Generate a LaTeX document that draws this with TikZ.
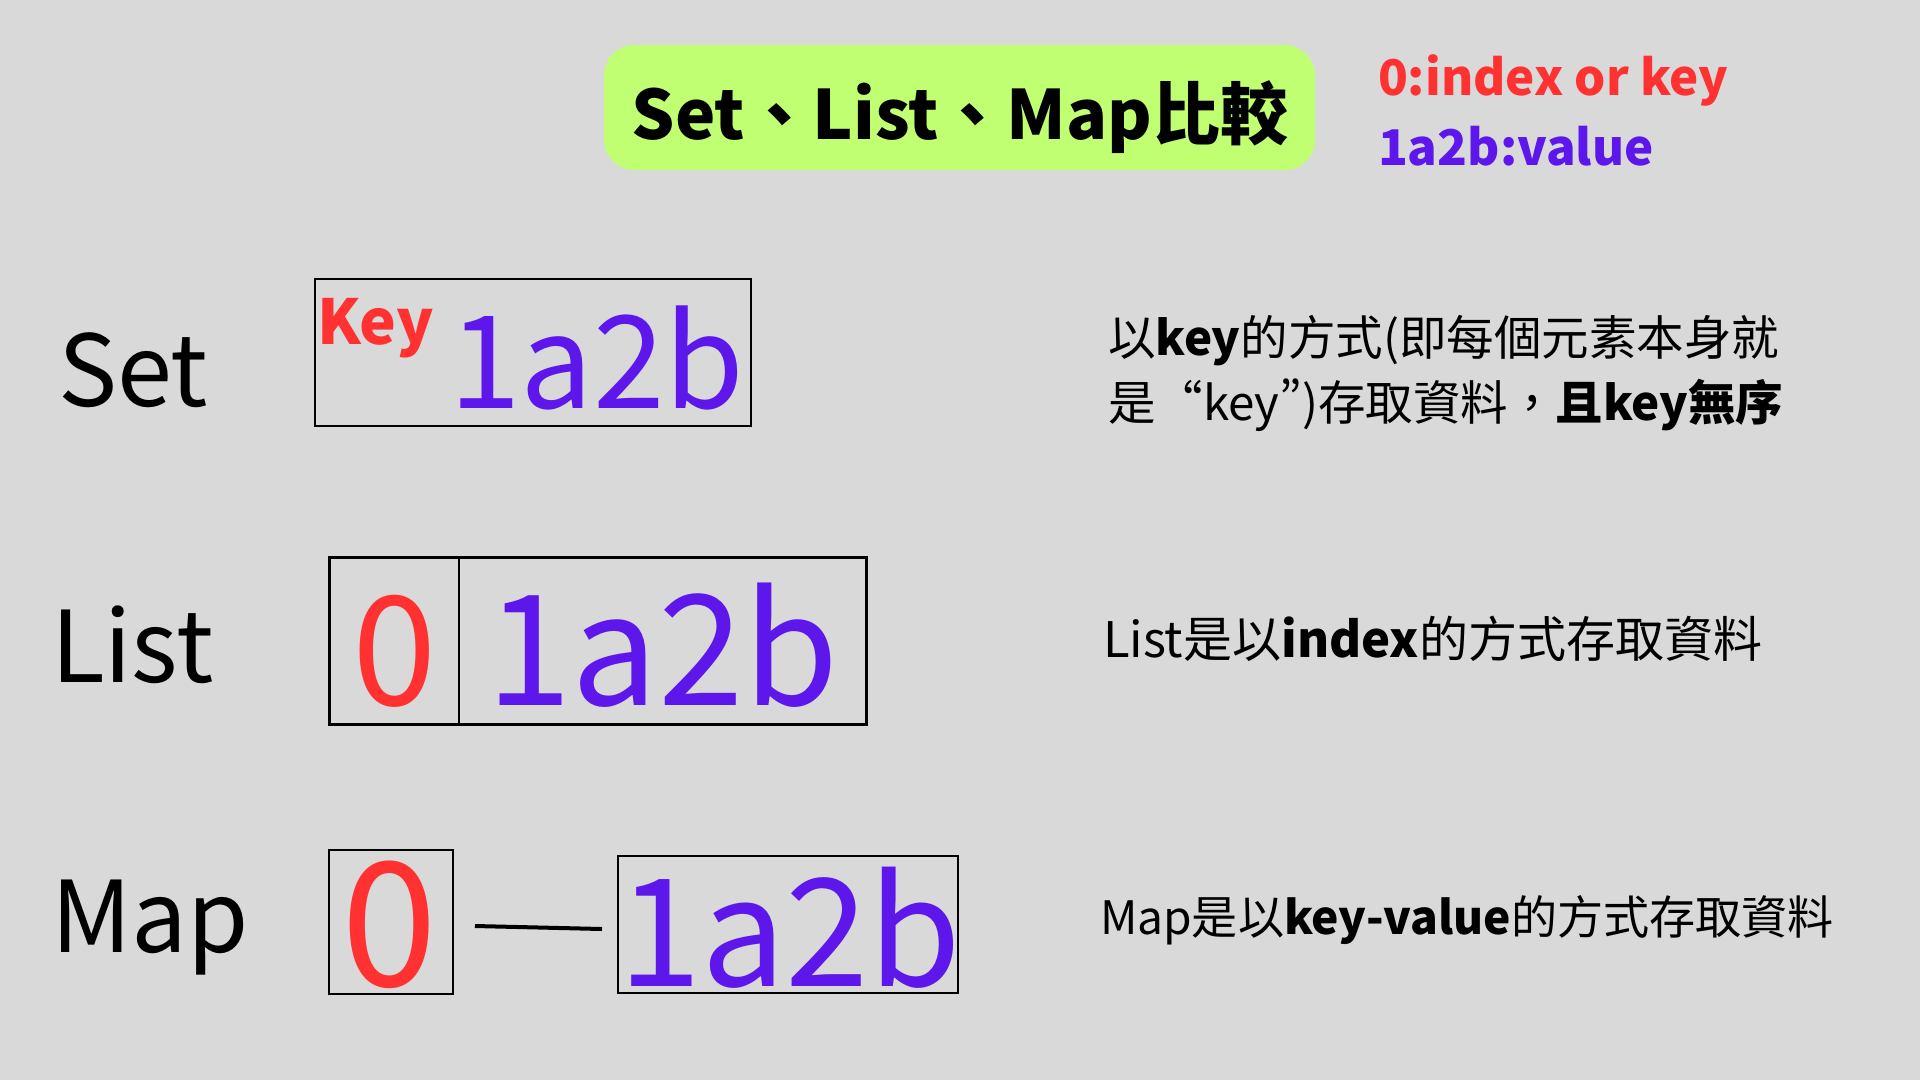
\documentclass[tikz,border=0pt]{standalone}
\usepackage{fontspec}
\setmainfont{Noto Sans CJK TC}
\definecolor{bg}{HTML}{D9D9D9}
\definecolor{kred}{HTML}{FF3131}
\definecolor{vpurple}{HTML}{5E17EB}
\definecolor{tgreen}{HTML}{C1FF72}
\newcommand{\pq}[1]{{\addfontfeatures{RawFeature=+pwid}#1}}
\tikzset{
  txt/.style={anchor=base west, inner sep=0pt, outer sep=0pt},
  ctxt/.style={anchor=base, inner sep=0pt, outer sep=0pt},
  fs/.style={font=\fontsize{#1}{#1}\selectfont}
}
\begin{document}
\begin{tikzpicture}[x=1pt,y=-1pt]
\fill[bg] (0,0) rectangle (1920,1080);
\useasboundingbox (0,0) rectangle (1920,1080);
% title
\fill[tgreen, rounded corners=30pt] (604,45) rectangle (1315,170);
\node[ctxt, fs=68] (title) at (960,139) {\bfseries Set、List、Map比較};
% legend
\node[txt, fs=49.2, text=kred] (leg1) at (1378,95) {\bfseries 0:index or key};
\node[txt, fs=49.2, text=vpurple] (leg2) at (1378,165) {\bfseries 1a2b:value};
% row labels
\node[txt, fs=99] (setl) at (58,406) {Set};
\node[txt, fs=99] (listl) at (51,682) {List};
\node[txt, fs=99] (mapl) at (51,952) {Map};
% Set box
\draw[black, line width=2pt] (315,279) rectangle (751,426);
\node[txt, fs=62, text=kred] (key) at (317,344) {\bfseries Key};
\node[txt, fs=129, text=vpurple] (setv) at (449,408) {1a2b};
% List box
\draw[black, line width=3pt] (329,557) rectangle (866,724);
\draw[black, line width=2pt] (459,557) -- (459,726);
\node[ctxt, fs=152, text=kred] (list0) at (395,705) {0};
\node[txt, fs=154, text=vpurple] (listv) at (486,705) {1a2b};
% Map
\draw[black, line width=2.5pt] (329,850) rectangle (453,994);
\node[ctxt, fs=173, text=kred] (map0) at (390,986) {0};
\draw[black, line width=2.5pt] (618,856) rectangle (958,993);
\node[txt, fs=150, text=vpurple] (mapv) at (618,986) {1a2b};
\coordinate (la) at (475,926);
\coordinate (lb) at (602,929);
\draw[black, line width=4pt] (la) -- (lb);
% descriptions
\node[txt, fs=47.5] (d1) at (1108,355) {以\textbf{key}的方式(即每個元素本身就};
\node[txt, fs=47.5] (d2) at (1108,420) {是“key\pq{”})存取資料，\textbf{且key無序}};
\node[txt, fs=49] (d3) at (1103,657) {List是以\textbf{index}的方式存取資料};
\node[txt, fs=46.1] (d4) at (1100,934) {Map是以\textbf{key-value}的方式存取資料};
\end{tikzpicture}
\end{document}
